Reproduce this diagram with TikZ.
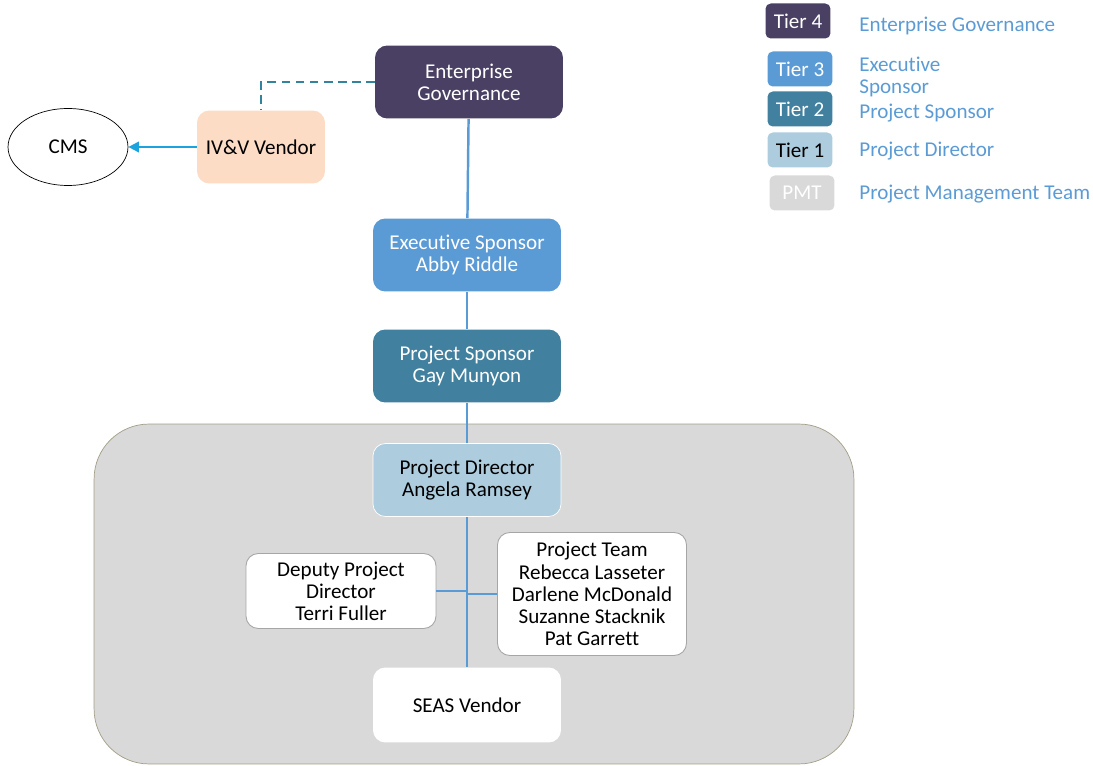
\documentclass[tikz,border=0pt]{standalone}
\usepackage{fontspec}
\setmainfont{Carlito}[Ligatures=NoCommon]
\usetikzlibrary{arrows.meta, shapes.geometric}

\definecolor{tierfour}{HTML}{4A4063}
\definecolor{tierthree}{HTML}{5B9BD5}
\definecolor{tiertwo}{HTML}{41809E}
\definecolor{tierone}{HTML}{ADCDDF}
\definecolor{pmtgray}{HTML}{D9D9D9}
\definecolor{vendorpeach}{HTML}{FDDCC6}
\definecolor{pmtborder}{HTML}{A39E88}
\definecolor{linkblue}{HTML}{5B9BD5}
\definecolor{cmsblue}{HTML}{1AA3DD}
\definecolor{dashteal}{HTML}{31849B}
\definecolor{boxborder}{HTML}{A6A6A6}

\begin{document}
\begin{tikzpicture}[x=0.02cm, y=-0.02cm, font=\fontsize{12}{12.6}\selectfont,
    orgbox/.style={rectangle, rounded corners=7pt, align=center,
        minimum width=3.76cm, minimum height=1.46cm, inner sep=2pt},
    whitebox/.style={orgbox, fill=white, draw=boxborder, line width=0.5pt},
    tierbox/.style={rectangle, rounded corners=3pt, minimum width=1.3cm,
        minimum height=0.7cm, inner sep=1pt},
    legendtext/.style={anchor=west, align=left, text=linkblue, inner sep=0pt},
    link/.style={linkblue, line width=1.4pt}]

    \useasboundingbox (0,0) rectangle (1093,766);

    % project management team area
    \node [rectangle, rounded corners=1.1cm, fill=pmtgray, draw=pmtborder,
        minimum width=15.2cm, minimum height=6.8cm]
        (pmt) at (474,594) {};

    % draw nodes
    \node [orgbox, fill=tierfour, text=white] (eg) at (469,82) {Enterprise\\Governance};
    \node [orgbox, fill=vendorpeach, minimum width=2.56cm] (ivv) at (261,147) {IV\&V Vendor};
    \node [ellipse, draw, minimum width=2.4cm, minimum height=1.54cm] (cms) at (68,147) {CMS};
    \node [orgbox, fill=tierthree, text=white] (es) at (467,255) {Executive Sponsor\\Abby Riddle};
    \node [orgbox, fill=tiertwo, text=white] (ps) at (467,366) {Project Sponsor\\Gay Munyon};
    \node [orgbox, fill=tierone, draw=white] (pd) at (467,480) {Project Director\\Angela Ramsey};
    \node [whitebox, minimum width=3.8cm, minimum height=1.5cm] (dpd) at (341,591)
        {Deputy Project\\Director\\Terri Fuller};
    \node [whitebox, minimum width=3.78cm, minimum height=2.46cm] (team) at (592,594)
        {Project Team\\Rebecca Lasseter\\Darlene McDonald\\Suzanne Stacknik\\Pat Garrett};
    \node [orgbox, fill=white, minimum height=1.5cm] (seas) at (467,705) {SEAS Vendor};

    % draw edges
    \draw [link] (eg) -- (es);
    \draw [link] (es) -- (ps);
    \draw [link] (ps) -- (pd);
    \draw [link] (pd) -- (seas);
    \draw [link] (dpd.east) -- (dpd.east -| pd.south);
    \draw [link] (team.west) -- (team.west -| pd.south);
    \draw [dashteal, dash pattern=on 5pt off 3pt, line width=0.6pt] (eg.west) -| (ivv.north);
    \draw [cmsblue, line width=1pt, -{Triangle[length=6pt, width=6pt]}] (ivv.west) -- (cms.east);

    % legend
    \foreach [count=\i] \x/\y/\ly/\c/\tc/\t/\l in {798/21/26/tierfour/white/Tier 4/{Enterprise Governance},
            800/69/77/tierthree/white/Tier 3/{Executive\\Sponsor},
            800/109/113/tiertwo/white/Tier 2/{Project Sponsor},
            800/150/151/tierone/black/Tier 1/{Project Director},
            802/193/194/pmtgray/white/PMT/{Project Management Team}}
    {
        \node [tierbox, fill=\c, text=\tc] (tier\i) at (\x,\y) {\t};
        \node [legendtext] (key\i) at (859,\ly) {\l};
    }

\end{tikzpicture}
\end{document}
